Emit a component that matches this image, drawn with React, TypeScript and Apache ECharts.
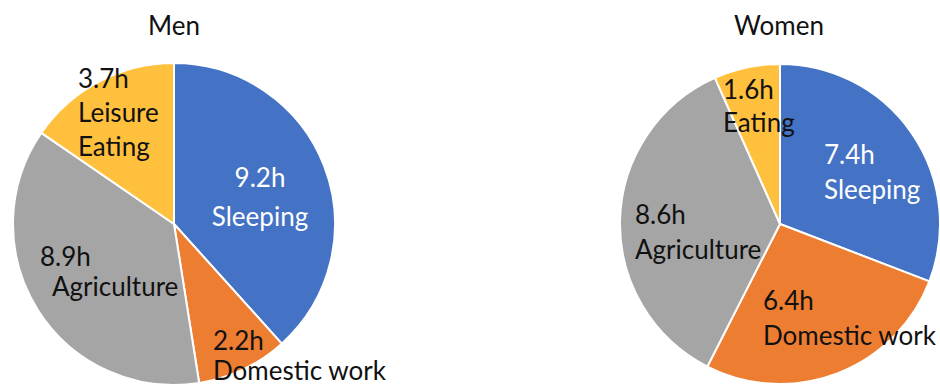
import React, { useEffect, useRef } from 'react';
import * as echarts from 'echarts';

// Daily hours per activity
const menNames = ['Sleeping', 'Domestic work', 'Agriculture', 'Leisure\nEating'];
const menHours = [9.2, 2.2, 8.9, 3.7];
const womenNames = ['Sleeping', 'Domestic work', 'Agriculture', 'Eating'];
const womenHours = [7.4, 6.4, 8.6, 1.6];
const sliceColors = ['#4472C4', '#ED7D31', '#A5A5A5', '#FFC03E'];
const labelColors = ['#ffffff', '#111111', '#111111', '#111111'];

const FONT = 'Lato, "Noto Sans", sans-serif';
const FONT_SIZE = 26;

// Label placement for each slice: anchor, alignment, line spacing, indent of name lines
type LabelSpot = { x: number; y: number; align: 'left' | 'center'; lh: number; indent: number };
const menLabelSpots: LabelSpot[] = [
  { x: 260, y: 157, align: 'center', lh: 39, indent: 0 },
  { x: 213, y: 325, align: 'left', lh: 30, indent: 0 },
  { x: 40, y: 241, align: 'left', lh: 30, indent: 12 },
  { x: 78, y: 61, align: 'left', lh: 34, indent: 0 },
];
const womenLabelSpots: LabelSpot[] = [
  { x: 824, y: 136, align: 'left', lh: 35, indent: 0 },
  { x: 763, y: 282, align: 'left', lh: 35, indent: 0 },
  { x: 635, y: 196, align: 'left', lh: 35, indent: 0 },
  { x: 723, y: 72, align: 'left', lh: 33, indent: 0 },
];

function buildData(names: string[], hours: number[], spots: LabelSpot[]) {
  return names.map((name, i) => {
    const spot = spots[i];
    const nameLines = name.split('\n').map((l) => `{n|${l}}`).join('\n');
    return {
      name,
      value: hours[i],
      itemStyle: { color: sliceColors[i] },
      label: {
        formatter: (p: any) => `{v|${Number(p.value).toFixed(1)}h}\n${nameLines}`,
        rich: {
          v: {
            fontFamily: FONT,
            fontSize: FONT_SIZE,
            lineHeight: spot.lh,
            color: labelColors[i],
          },
          n: {
            fontFamily: FONT,
            fontSize: FONT_SIZE,
            lineHeight: spot.lh,
            color: labelColors[i],
            padding: [0, 0, 0, spot.indent],
          },
        },
      },
    };
  });
}

function pieSeries(names: string[], hours: number[], spots: LabelSpot[], center: number[], radius: number) {
  return {
    type: 'pie',
    center,
    radius,
    startAngle: 90,
    clockwise: true,
    avoidLabelOverlap: false,
    silent: true,
    itemStyle: { borderColor: '#ffffff', borderWidth: 2 },
    label: { show: true, position: 'inside', fontFamily: FONT, fontSize: FONT_SIZE },
    labelLine: { show: false },
    labelLayout: (params: any) => {
      const spot = spots[params.dataIndex];
      return { x: spot.x, y: spot.y, align: spot.align, verticalAlign: 'top' };
    },
    data: buildData(names, hours, spots),
  };
}

const titleStyle = { fontFamily: FONT, fontSize: 26, fontWeight: 'normal', color: '#111111' };

export default function App() {
  const ref = useRef<HTMLDivElement>(null);

  useEffect(() => {
    if (!ref.current) return;
    const chart = echarts.init(ref.current, undefined, { renderer: 'svg' });
    chart.setOption({
      animation: false,
      backgroundColor: '#ffffff',
      title: [
        { text: 'Men', left: 174, top: 12, padding: 0, textAlign: 'center', textStyle: titleStyle },
        { text: 'Women', left: 779, top: 12, padding: 0, textAlign: 'center', textStyle: titleStyle },
      ],
      series: [
        pieSeries(menNames, menHours, menLabelSpots, [174, 224], 161),
        pieSeries(womenNames, womenHours, womenLabelSpots, [780, 224], 160),
      ],
    });
    return () => chart.dispose();
  }, []);

  return (
    <div
      ref={ref}
      style={{ position: 'fixed', left: 0, top: 0, width: 940, height: 385, background: '#fff' }}
    />
  );
}
